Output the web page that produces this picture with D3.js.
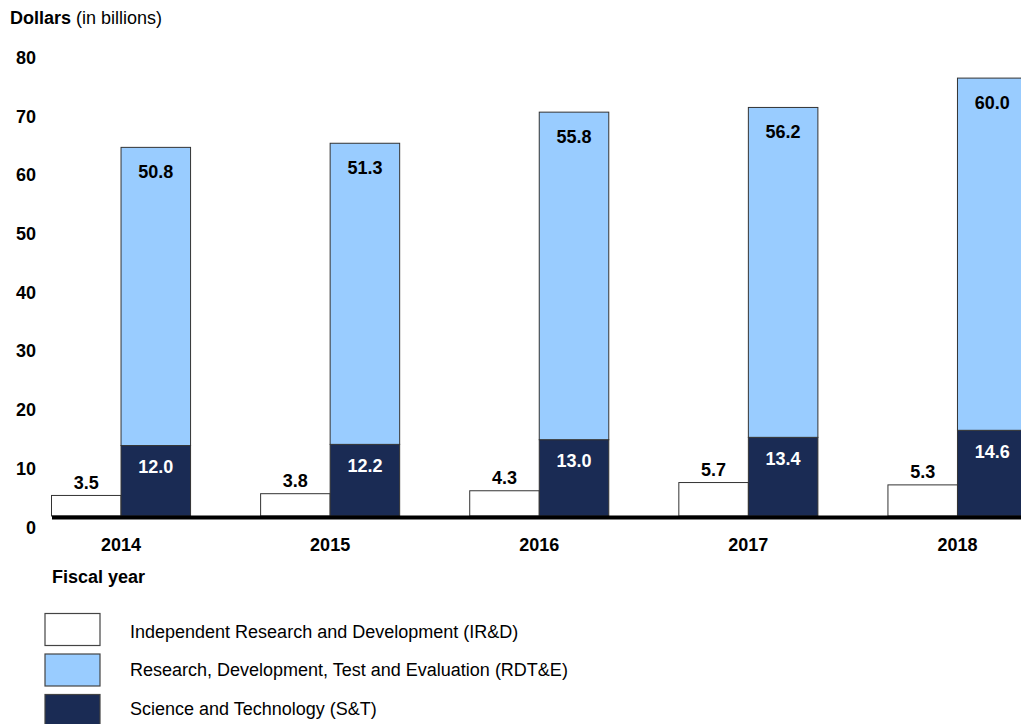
<!DOCTYPE html>
<html>
<head>
<meta charset="utf-8">
<script src="https://cdn.jsdelivr.net/npm/d3@7"></script>
<style>
  body { margin: 0; background: #fff; }
  svg text { font-family: "Liberation Sans", Arial, sans-serif; }
</style>
</head>
<body>
<div id="chart"></div>
<script>
var years = ["2014", "2015", "2016", "2017", "2018"];
var irdValues = [3.5, 3.8, 4.3, 5.7, 5.3];
var stValues = [12.0, 12.2, 13.0, 13.4, 14.6];
var rdteValues = [50.8, 51.3, 55.8, 56.2, 60.0];
var yTicks = [0, 10, 20, 30, 40, 50, 60, 70, 80];
var legendLabels = [
  "Independent Research and Development (IR&D)",
  "Research, Development, Test and Evaluation (RDT&E)",
  "Science and Technology (S&T)"
];

var colors = { ird: "#ffffff", rdte: "#99ccff", st: "#1a2b54" };

var width = 1021, height = 724;
var fs = 18;

var svg = d3.select("#chart").append("svg")
  .attr("width", width)
  .attr("height", height);

var x = d3.scaleBand()
  .domain(years)
  .range([51.5, 1027])
  .paddingInner(0.335)
  .paddingOuter(0);

var xInner = d3.scaleBand()
  .domain(["ird", "stack"])
  .range([0, x.bandwidth()]);

var y = d3.scaleLinear()
  .domain([0, 80])
  .range([516, 46.4]);

var data = years.map(function(yr, i) {
  return { year: yr, ird: irdValues[i], st: stValues[i], rdte: rdteValues[i] };
});

// y axis title
var title = svg.append("text").attr("x", 10).attr("y", 23.5).attr("font-size", fs).attr("fill", "#000");
title.append("tspan").attr("font-weight", "bold").text("Dollars");
title.append("tspan").text(" (in billions)");

// y tick labels
svg.append("g").selectAll("text")
  .data(yTicks)
  .enter()
  .append("text")
  .attr("x", 36)
  .attr("y", d => y(d) + 17.5)
  .attr("text-anchor", "end")
  .attr("font-size", fs)
  .attr("font-weight", "bold")
  .text(d => d);

var groups = svg.append("g").selectAll("g")
  .data(data)
  .enter()
  .append("g")
  .attr("transform", d => "translate(" + x(d.year) + ",0)");

// IR&D bars
groups.append("rect")
  .attr("x", xInner("ird"))
  .attr("y", d => y(d.ird))
  .attr("width", xInner.bandwidth())
  .attr("height", d => y(0) - y(d.ird))
  .attr("fill", colors.ird)
  .attr("stroke", "#333")
  .attr("stroke-width", 1);

// S&T bars
groups.append("rect")
  .attr("x", xInner("stack"))
  .attr("y", d => y(d.st))
  .attr("width", xInner.bandwidth())
  .attr("height", d => y(0) - y(d.st))
  .attr("fill", colors.st)
  .attr("stroke", "#333")
  .attr("stroke-width", 1);

// RDT&E bars stacked on S&T
groups.append("rect")
  .attr("x", xInner("stack"))
  .attr("y", d => y(d.st + d.rdte))
  .attr("width", xInner.bandwidth())
  .attr("height", d => y(d.st) - y(d.st + d.rdte))
  .attr("fill", colors.rdte)
  .attr("stroke", "#333")
  .attr("stroke-width", 1);

// value labels
groups.append("text")
  .attr("x", xInner("ird") + xInner.bandwidth() / 2)
  .attr("y", d => y(d.ird) - 6.5)
  .attr("text-anchor", "middle")
  .attr("font-size", fs)
  .attr("font-weight", "bold")
  .text(d => d.ird.toFixed(1));

groups.append("text")
  .attr("x", xInner("stack") + xInner.bandwidth() / 2)
  .attr("y", d => y(d.st) + 27.5)
  .attr("text-anchor", "middle")
  .attr("font-size", fs)
  .attr("font-weight", "bold")
  .attr("fill", "#fff")
  .text(d => d.st.toFixed(1));

groups.append("text")
  .attr("x", xInner("stack") + xInner.bandwidth() / 2)
  .attr("y", d => y(d.st + d.rdte) + 30.5)
  .attr("text-anchor", "middle")
  .attr("font-size", fs)
  .attr("font-weight", "bold")
  .text(d => d.rdte.toFixed(1));

// baseline
svg.append("line")
  .attr("x1", 52)
  .attr("x2", width)
  .attr("y1", y(0) + 1.5)
  .attr("y2", y(0) + 1.5)
  .attr("stroke", "#000")
  .attr("stroke-width", 4);

// year labels
svg.append("g").selectAll("text")
  .data(years)
  .enter()
  .append("text")
  .attr("x", d => x(d) + x.bandwidth() / 2)
  .attr("y", 550.5)
  .attr("text-anchor", "middle")
  .attr("font-size", fs)
  .attr("font-weight", "bold")
  .text(d => d);

svg.append("text")
  .attr("x", 52)
  .attr("y", 582.5)
  .attr("font-size", fs)
  .attr("font-weight", "bold")
  .text("Fiscal year");

// legend
var legendColors = [colors.ird, colors.rdte, colors.st];
var legend = svg.append("g");

legend.selectAll("rect")
  .data(legendLabels)
  .enter()
  .append("rect")
  .attr("x", 45)
  .attr("y", (d, i) => 613.5 + i * 40.5)
  .attr("width", 55)
  .attr("height", 32)
  .attr("fill", (d, i) => legendColors[i])
  .attr("stroke", "#444")
  .attr("stroke-width", 1.2);

legend.selectAll("text")
  .data(legendLabels)
  .enter()
  .append("text")
  .attr("x", 130)
  .attr("y", (d, i) => 638 + i * 38.3)
  .attr("font-size", fs)
  .text(d => d);
</script>
</body>
</html>
